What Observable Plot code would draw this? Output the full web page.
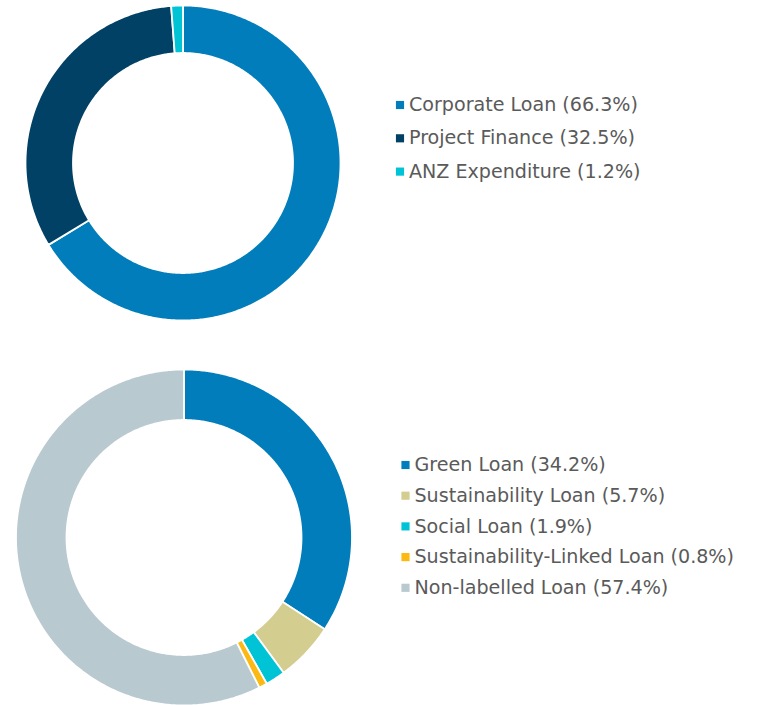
<!DOCTYPE html>
<html>
<head>
<meta charset="utf-8">
<script src="https://cdn.jsdelivr.net/npm/d3@7"></script>
<script src="https://cdn.jsdelivr.net/npm/@observablehq/plot@0.6"></script>
<style>
  html, body { margin: 0; padding: 0; background: #fff; }
  #chart { width: 757px; height: 705px; }
</style>
</head>
<body>
<div id="chart"></div>
<script>
// Data
const topCategories = ["Corporate Loan", "Project Finance", "ANZ Expenditure"];
const topValues = [66.3, 32.5, 1.2];
const bottomCategories = ["Green Loan", "Sustainability Loan", "Social Loan", "Sustainability-Linked Loan", "Non-labelled Loan"];
const bottomValues = [34.2, 5.7, 1.9, 0.8, 57.4];

// Styles
const topColors = ["#007dba", "#004165", "#00c4d6"];
const bottomColors = ["#007dba", "#d3cd8f", "#00c4d6", "#fdb913", "#b9c9d0"];

const W = 757, H = 705;

function donutPolygons(cats, vals, cx, cy, r0, r1, group) {
  const pie = d3.pie().sort(null).value(d => d.value);
  const arcs = pie(cats.map((c, i) => ({cat: c, value: vals[i]})));
  const pts = [];
  arcs.forEach(a => {
    const n = Math.max(2, Math.ceil((a.endAngle - a.startAngle) / 0.01));
    const key = group + ":" + a.data.cat;
    for (let k = 0; k <= n; k++) {
      const t = a.startAngle + (a.endAngle - a.startAngle) * k / n;
      pts.push({key, cat: a.data.cat, x: cx + r1 * Math.sin(t), y: cy - r1 * Math.cos(t)});
    }
    for (let k = n; k >= 0; k--) {
      const t = a.startAngle + (a.endAngle - a.startAngle) * k / n;
      pts.push({key, cat: a.data.cat, x: cx + r0 * Math.sin(t), y: cy - r0 * Math.cos(t)});
    }
  });
  return pts;
}

const topPoly = donutPolygons(topCategories, topValues, 182.5, 162.5, 110, 157.5, "top");
const bottomPoly = donutPolygons(bottomCategories, bottomValues, 183.5, 537, 117.5, 168, "bottom");

function legendRows(cats, vals, x, y0, dy) {
  return cats.map((c, i) => ({cat: c, label: `${c} (${vals[i].toFixed(1)}%)`, x, y: y0 + i * dy}));
}
const topLegend = legendRows(topCategories, topValues, 399.5, 104.5, 33.3);
const bottomLegend = legendRows(bottomCategories, bottomValues, 405, 464.5, 30.7);

const chart = Plot.plot({
  width: W,
  height: H,
  margin: 0,
  x: {domain: [0, W], range: [0, W], axis: null},
  y: {domain: [0, H], range: [0, H], axis: null},
  color: {domain: topCategories.concat(bottomCategories), range: topColors.concat(bottomColors)},
  style: {fontFamily: "DejaVu Sans, Verdana, sans-serif", background: "#fff"},
  marks: [
    Plot.line(topPoly, {x: "x", y: "y", z: "key", fill: "cat", stroke: "#fff", strokeWidth: 1.8, curve: "linear-closed"}),
    Plot.line(bottomPoly, {x: "x", y: "y", z: "key", fill: "cat", stroke: "#fff", strokeWidth: 1.8, curve: "linear-closed"}),
    Plot.dot(topLegend.concat(bottomLegend), {x: "x", y: "y", fill: "cat", symbol: "square", r: 4.6}),
    Plot.text(topLegend.concat(bottomLegend), {x: d => d.x + 9, y: "y", text: "label", textAnchor: "start", fontSize: 19.1, fill: "#5a5a5a"})
  ]
});
document.getElementById("chart").appendChild(chart);
</script>
</body>
</html>
